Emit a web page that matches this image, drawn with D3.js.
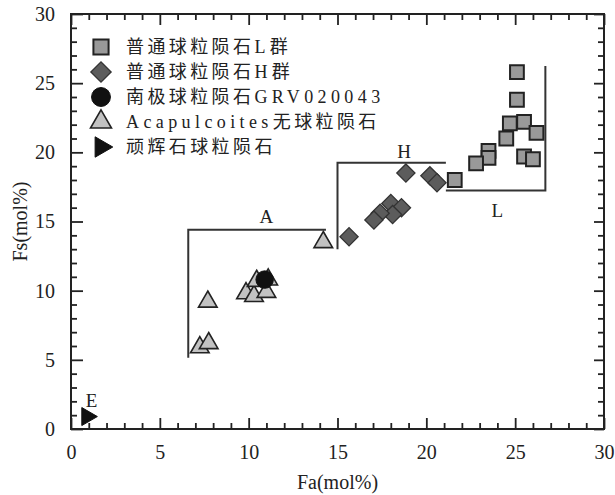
<!DOCTYPE html>
<html>
<head>
<meta charset="utf-8">
<script src="https://cdn.jsdelivr.net/npm/d3@7/dist/d3.min.js"></script>
<style>
body { margin: 0; background: #fff; }
svg text { font-family: "Liberation Serif", "Noto Sans CJK SC", serif; fill: #222; }
</style>
</head>
<body>
<svg id="chart" width="615" height="495"></svg>
<script>
// data, [Fa, Fs] in mol%
var groupL = [[25.1, 25.8], [25.1, 23.8], [24.7, 22.1], [25.5, 22.2], [26.2, 21.4], [24.5, 21.0],
  [23.5, 20.1], [23.5, 19.6], [22.8, 19.2], [25.5, 19.7], [26.0, 19.5], [21.6, 18.0]];
var groupH = [[18.85, 18.5], [20.2, 18.3], [20.6, 17.8], [18.0, 16.3], [18.6, 16.0], [18.1, 15.5],
  [17.4, 15.6], [17.05, 15.1], [15.65, 13.9]];
var acapulcoites = [[14.2, 13.5], [7.7, 9.2], [7.25, 5.9], [7.75, 6.2], [9.85, 9.8], [10.3, 9.6],
  [11.0, 9.9], [10.45, 10.7], [11.1, 10.8]];
var grv = [[10.9, 10.8]];
var enstatite = [[0.9, 0.9]];

// field outlines
var fieldA = [[6.6, 5.15], [6.6, 14.4], [14.35, 14.4]];
var fieldH = [[15.0, 13.0], [15.0, 19.25], [21.1, 19.25]];
var fieldL = [[21.1, 17.25], [26.7, 17.25], [26.7, 26.25]];
var fieldLabels = [{t: 'A', x: 11.0, y: 14.9}, {t: 'H', x: 18.75, y: 19.6}, {t: 'L', x: 24.0, y: 15.3}, {t: 'E', x: 1.15, y: 1.6}];

var legendNames = ['普通球粒陨石L群', '普通球粒陨石H群', '南极球粒陨石GRV020043', 'Acapulcoites无球粒陨石', '顽辉石球粒陨石'];
var xTicks = [0, 5, 10, 15, 20, 25, 30];
var yTicks = [0, 5, 10, 15, 20, 25, 30];

var margin = {top: 14, left: 71, right: 11, bottom: 66};
var width = 615 - margin.left - margin.right;
var height = 495 - margin.top - margin.bottom;

var svg = d3.select('#chart');
var g = svg.append('g').attr('transform', 'translate(' + margin.left + ',' + margin.top + ')');

var x = d3.scaleLinear().domain([0, 30]).range([0, width]);
var y = d3.scaleLinear().domain([0, 30]).range([height, 0]);

var minor = d3.range(0, 31, 1).filter(function(d) { return d % 5 !== 0; });

// frame with inward ticks on all four sides
function drawAxis(axis, tickVals, len, tr, labels) {
  var a = g.append('g').attr('transform', tr)
    .call(axis.tickValues(tickVals).tickSize(len).tickFormat(labels ? d3.format('d') : ''));
  a.select('.domain').remove();
  a.selectAll('line').attr('stroke', '#222').attr('stroke-width', 1.8);
  return a;
}
var bx = drawAxis(d3.axisBottom(x), xTicks, -11, 'translate(0,' + height + ')', true);
drawAxis(d3.axisBottom(x), minor, -6, 'translate(0,' + height + ')', false);
drawAxis(d3.axisTop(x), xTicks, -11, 'translate(0,0)', false);
drawAxis(d3.axisTop(x), minor, -6, 'translate(0,0)', false);
var ly = drawAxis(d3.axisLeft(y), yTicks, -12, 'translate(0,0)', true);
drawAxis(d3.axisLeft(y), minor, -6, 'translate(0,0)', false);
drawAxis(d3.axisRight(y), yTicks, -10, 'translate(' + width + ',0)', false);
drawAxis(d3.axisRight(y), minor, -6, 'translate(' + width + ',0)', false);

bx.selectAll('text').attr('font-size', 20).attr('y', 16).attr('dy', '0.71em')
  .style('font-family', '"Liberation Serif", serif').attr('fill', '#222');
ly.selectAll('text').attr('font-size', 20).attr('x', -16)
  .style('font-family', '"Liberation Serif", serif').attr('fill', '#222');

g.append('rect').attr('width', width).attr('height', height)
  .attr('fill', 'none').attr('stroke', '#222').attr('stroke-width', 2);

// axis titles
svg.append('text').attr('x', margin.left + x(15)).attr('y', 489)
  .attr('text-anchor', 'middle').attr('font-size', 20).text('Fa(mol%)');
svg.append('text').attr('transform', 'translate(27,' + (margin.top + y(15)) + ') rotate(-90)')
  .attr('text-anchor', 'middle').attr('font-size', 20).text('Fs(mol%)');

// fields
var line = d3.line().x(function(d) { return x(d[0]); }).y(function(d) { return y(d[1]); });
[fieldA, fieldH, fieldL].forEach(function(f) {
  g.append('path').attr('d', line(f)).attr('fill', 'none').attr('stroke', '#333').attr('stroke-width', 2);
});
g.selectAll('.flabel').data(fieldLabels).join('text')
  .attr('class', 'flabel')
  .attr('x', function(d) { return x(d.x); })
  .attr('y', function(d) { return y(d.y); })
  .attr('text-anchor', 'middle').attr('font-size', 19)
  .text(function(d) { return d.t; });

// marker styles
var styles = [
  {type: d3.symbolSquare, size: 190, rot: 0, fill: '#999', stroke: '#222', sw: 2},
  {type: d3.symbolSquare, size: 165, rot: 45, fill: '#5c5c5c', stroke: '#333', sw: 1.3},
  {type: d3.symbolCircle, size: 240, rot: 0, fill: '#111', stroke: '#111', sw: 1},
  {type: d3.symbolTriangle, size: 150, rot: 0, fill: '#c2c2c2', stroke: '#222', sw: 1.6},
  {type: d3.symbolTriangle, size: 140, rot: 90, fill: '#111', stroke: '#111', sw: 1}
];

function drawPoints(data, s) {
  g.append('g').selectAll('path').data(data).join('path')
    .attr('d', d3.symbol().type(s.type).size(s.size))
    .attr('transform', function(d) { return 'translate(' + x(d[0]) + ',' + y(d[1]) + ') rotate(' + s.rot + ')'; })
    .attr('fill', s.fill).attr('stroke', s.stroke).attr('stroke-width', s.sw);
}
drawPoints(groupL, styles[0]);
drawPoints(groupH, styles[1]);
drawPoints(acapulcoites, styles[3]);
drawPoints(grv, styles[2]);
drawPoints(enstatite, styles[4]);

// legend
var legend = svg.append('g').attr('transform', 'translate(101,47)');
var rows = legend.selectAll('g').data(legendNames).join('g')
  .attr('transform', function(d, i) { return 'translate(0,' + (i * 25) + ')'; });
rows.append('path')
  .attr('d', function(d, i) { return d3.symbol().type(styles[i].type).size(styles[i].size + 40)(); })
  .attr('transform', function(d, i) { return 'rotate(' + styles[i].rot + ')'; })
  .attr('fill', function(d, i) { return styles[i].fill; })
  .attr('stroke', function(d, i) { return styles[i].stroke; })
  .attr('stroke-width', function(d, i) { return styles[i].sw; });
// latin runs are spaced a little wider than the chinese ones
rows.append('text').attr('x', 25).attr('dy', '0.36em').attr('font-size', 18)
  .each(function(d) {
    var t = d3.select(this);
    d.match(/[A-Za-z0-9]+|[^A-Za-z0-9]+/g).forEach(function(run) {
      var latin = /[A-Za-z0-9]/.test(run);
      t.append('tspan').attr('letter-spacing', latin ? 4.4 : 3.4).text(run);
    });
  });
</script>
</body>
</html>
